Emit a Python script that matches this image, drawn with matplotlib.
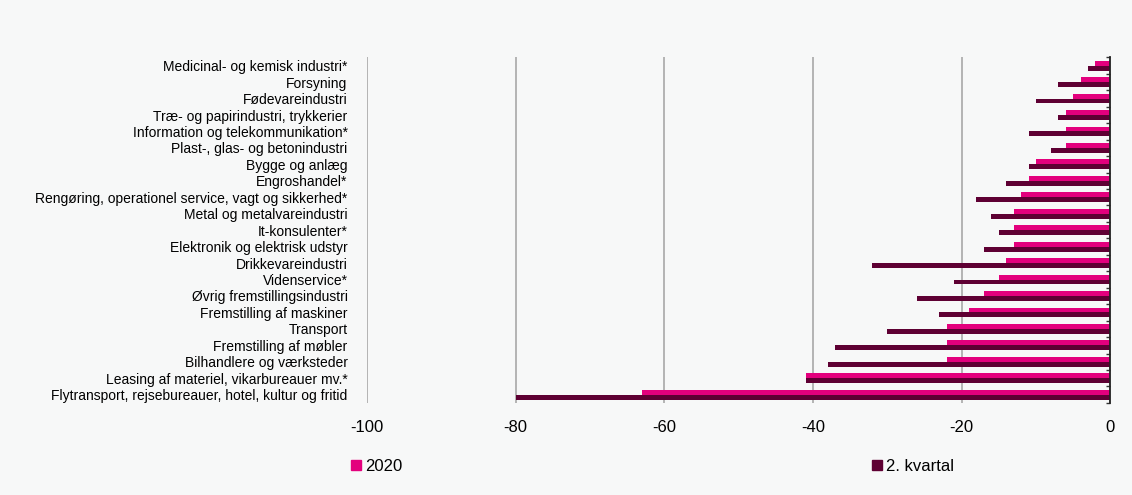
import matplotlib.pyplot as plt
import numpy as np
from matplotlib.patches import Patch

# Categories top to bottom
categories = [
    "Medicinal- og kemisk industri*",
    "Forsyning",
    "Fødevareindustri",
    "Træ- og papirindustri, trykkerier",
    "Information og telekommunikation*",
    "Plast-, glas- og betonindustri",
    "Bygge og anlæg",
    "Engroshandel*",
    "Rengøring, operationel service, vagt og sikkerhed*",
    "Metal og metalvareindustri",
    "It-konsulenter*",
    "Elektronik og elektrisk udstyr",
    "Drikkevareindustri",
    "Videnservice*",
    "Øvrig fremstillingsindustri",
    "Fremstilling af maskiner",
    "Transport",
    "Fremstilling af møbler",
    "Bilhandlere og værksteder",
    "Leasing af materiel, vikarbureauer mv.*",
    "Flytransport, rejsebureauer, hotel, kultur og fritid",
]

values_2020 = [-2, -4, -5, -6, -6, -6, -10, -11, -12, -13, -13, -13, -14, -15,
               -17, -19, -22, -22, -22, -41, -63]
values_q2 = [-3, -7, -10, -7, -11, -8, -11, -14, -18, -16, -15, -17, -32, -21,
             -26, -23, -30, -37, -38, -41, -80]

x_ticks = [-100, -80, -60, -40, -20, 0]
series_names = ["2020", "2. kvartal"]

pink = "#E3007D"
dark = "#5E0033"
bg = "#F7F8F8"

plt.rcParams['font.family'] = ['Liberation Sans', 'DejaVu Sans']

fig = plt.figure(figsize=(11.32, 4.95), dpi=100, facecolor=bg)
ax = fig.add_axes([0.3242, 0.186, 0.6566, 0.698])
ax.set_facecolor(bg)

y = np.arange(len(categories))
h = 0.3
ax.barh(y - h / 2, values_2020, height=h, color=pink, zorder=3)
ax.barh(y + h / 2, values_q2, height=h, color=dark, zorder=3)

ax.set_xlim(-100, 0)
ax.set_ylim(len(categories) - 0.5, -0.5)

ax.set_xticks(x_ticks)
ax.set_xticklabels([str(v) for v in x_ticks], fontsize=12)
ax.tick_params(axis='x', length=0, pad=12)

ax.set_yticks(y)
ax.set_yticklabels(categories, fontsize=10)
ax.set_yticks(np.arange(len(categories) + 1) - 0.5, minor=True)
ax.tick_params(axis='y', which='major', length=0, pad=14)
ax.tick_params(axis='y', which='minor', left=False, right=True,
               direction='in', length=3, width=1, color='#333333')

ax.grid(axis='x', color='#A8A8A8', linewidth=1.2, zorder=0)
ax.grid(axis='y', which='both', visible=False)

for s in ['top', 'bottom', 'left']:
    ax.spines[s].set_visible(False)
ax.spines['right'].set_color('#222222')
ax.spines['right'].set_linewidth(1.3)
ax.spines['right'].set_zorder(4)

# legend entries spread out like the original
for name, col, xpos in [(series_names[0], pink, 0.310), (series_names[1], dark, 0.770)]:
    fig.legend(handles=[Patch(color=col)], labels=[name], loc='center left',
               bbox_to_anchor=(xpos, 0.058), frameon=False, fontsize=12,
               handlelength=0.6, handleheight=0.6, handletextpad=0.25,
               borderaxespad=0, borderpad=0)

fig.savefig("out.png", dpi=100, facecolor=bg)
